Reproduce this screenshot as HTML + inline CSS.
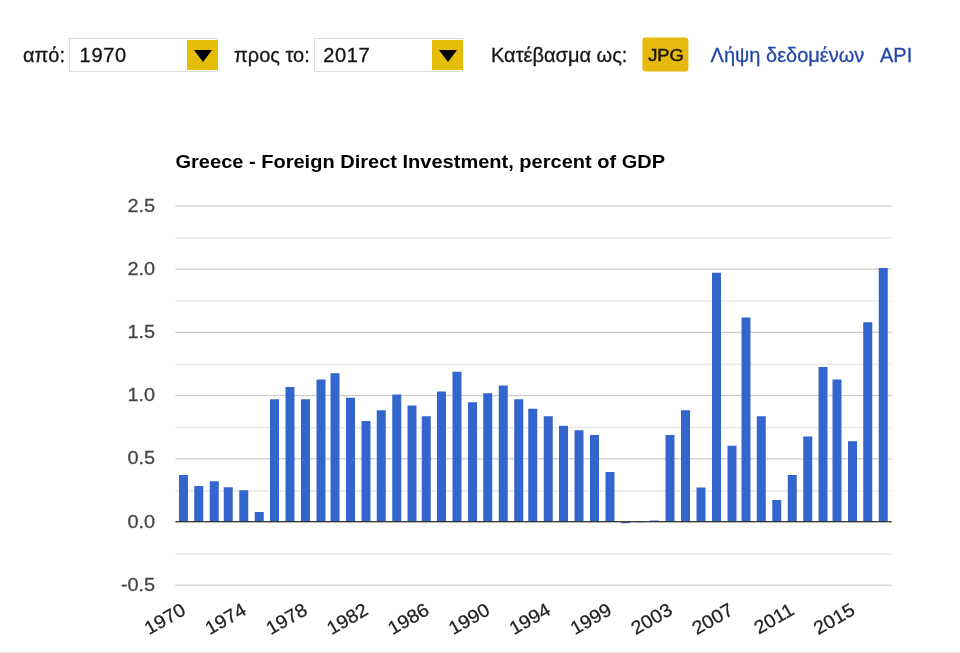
<!DOCTYPE html>
<html lang="el">
<head>
<meta charset="utf-8">
<title>Greece - Foreign Direct Investment, percent of GDP</title>
<style>
html,body{margin:0;padding:0;background:#fff;}
body{width:960px;height:653px;overflow:hidden;position:relative;font-family:"Liberation Sans",sans-serif;}
.bar{position:absolute;left:0;top:0;width:960px;height:110px;font-size:20px;color:#161616;}
.bar span,.bar a,.sel b{-webkit-text-stroke:0.3px currentColor;}
.bar span,.bar a{position:absolute;top:43px;line-height:24px;white-space:nowrap;}
.bar a{color:#2448aa;text-decoration:none;}
.sel{position:absolute;top:38px;height:31.5px;width:147.2px;border:1px solid #dcdcdc;background:#fff;box-sizing:content-box;}
.sel b{position:absolute;left:9.6px;top:4px;font-weight:normal;line-height:24px;font-size:20px;color:#111;letter-spacing:0.7px;}
.sel i{position:absolute;right:-1px;top:0.6px;width:31.6px;height:30.2px;background:#e6bd06;}
.sel i:after{content:"";position:absolute;left:7.1px;top:10.7px;border-left:9.2px solid transparent;border-right:9.2px solid transparent;border-top:12.6px solid #000;}
.btn{position:absolute;left:642px;top:37px;width:46px;height:34px;transform:translate(0.4px,0.45px);background:#e6b90f;border-radius:3px;color:#1c1400;font-size:17.2px;line-height:35px;text-align:center;-webkit-text-stroke:0.45px #1c1400;}
.btn u{display:inline-block;text-decoration:none;transform:translate(0.9px,0.9px) scaleX(1.07);}
.chart{position:absolute;left:0;top:133px;}
.ttl{font:bold 17.6px "Liberation Sans",sans-serif;fill:#000;}
.yl{font:18.8px "Liberation Sans",sans-serif;fill:#444;stroke:#444;stroke-width:0.25px;}
.xl{font:18.8px "Liberation Sans",sans-serif;fill:#222;stroke:#222;stroke-width:0.25px;}
.foot{position:absolute;left:0;top:651px;width:960px;height:2px;background:#efefef;}
</style>
</head>
<body>
<div class="bar">
<span style="left:23px">από:</span>
<div class="sel" style="left:69px"><b>1970</b><i></i></div>
<span style="left:234px">προς το:</span>
<div class="sel" style="left:314px"><b style="left:8.3px;letter-spacing:0.6px">2017</b><i></i></div>
<span style="left:491px">Κατέβασμα ως:</span>
<div class="btn"><u>JPG</u></div>
<a style="left:710.6px">Λήψη δεδομένων</a>
<a style="left:880px">API</a>
</div>
<svg class="chart" width="960" height="520" viewBox="0 133 960 520">
<text x="175.5" y="168" class="ttl" textLength="489.6" lengthAdjust="spacingAndGlyphs">Greece - Foreign Direct Investment, percent of GDP</text>
<rect x="175.4" y="237.15" width="716.2" height="1.5" fill="#e9e9e9"/>
<rect x="175.4" y="300.35" width="716.2" height="1.5" fill="#e9e9e9"/>
<rect x="175.4" y="363.55" width="716.2" height="1.5" fill="#e9e9e9"/>
<rect x="175.4" y="426.85" width="716.2" height="1.5" fill="#e9e9e9"/>
<rect x="175.4" y="490.15" width="716.2" height="1.5" fill="#e9e9e9"/>
<rect x="175.4" y="553.25" width="716.2" height="1.5" fill="#e9e9e9"/>
<rect x="175.4" y="205.30" width="716.2" height="1.2" fill="#cacaca"/>
<rect x="175.4" y="268.50" width="716.2" height="1.2" fill="#cacaca"/>
<rect x="175.4" y="331.70" width="716.2" height="1.2" fill="#cacaca"/>
<rect x="175.4" y="394.95" width="716.2" height="1.2" fill="#cacaca"/>
<rect x="175.4" y="458.20" width="716.2" height="1.2" fill="#cacaca"/>
<rect x="175.4" y="584.60" width="716.2" height="1.2" fill="#cacaca"/>
<rect x="179" y="475" width="9" height="47.00" fill="#3366cc"/>
<rect x="194.25" y="486" width="9" height="36.00" fill="#3366cc"/>
<rect x="209.75" y="481.25" width="9" height="40.75" fill="#3366cc"/>
<rect x="223.75" y="487.25" width="9" height="34.75" fill="#3366cc"/>
<rect x="239.25" y="490.25" width="9" height="31.75" fill="#3366cc"/>
<rect x="254.75" y="512" width="9" height="10.00" fill="#3366cc"/>
<rect x="270" y="399.25" width="9" height="122.75" fill="#3366cc"/>
<rect x="285.5" y="387" width="9" height="135.00" fill="#3366cc"/>
<rect x="301" y="399.25" width="9" height="122.75" fill="#3366cc"/>
<rect x="316.5" y="379.5" width="9" height="142.50" fill="#3366cc"/>
<rect x="330.5" y="373.25" width="9" height="148.75" fill="#3366cc"/>
<rect x="346" y="397.75" width="9" height="124.25" fill="#3366cc"/>
<rect x="361.5" y="421" width="9" height="101.00" fill="#3366cc"/>
<rect x="376.75" y="410.25" width="9" height="111.75" fill="#3366cc"/>
<rect x="392.25" y="394.5" width="9" height="127.50" fill="#3366cc"/>
<rect x="407.5" y="405.5" width="9" height="116.50" fill="#3366cc"/>
<rect x="421.75" y="416.25" width="9" height="105.75" fill="#3366cc"/>
<rect x="437" y="391.5" width="9" height="130.50" fill="#3366cc"/>
<rect x="452.5" y="371.75" width="9" height="150.25" fill="#3366cc"/>
<rect x="468" y="402.25" width="9" height="119.75" fill="#3366cc"/>
<rect x="483.25" y="393.25" width="9" height="128.75" fill="#3366cc"/>
<rect x="498.75" y="385.5" width="9" height="136.50" fill="#3366cc"/>
<rect x="514.25" y="399.25" width="9" height="122.75" fill="#3366cc"/>
<rect x="528.25" y="408.75" width="9" height="113.25" fill="#3366cc"/>
<rect x="543.75" y="416.25" width="9" height="105.75" fill="#3366cc"/>
<rect x="559" y="425.75" width="9" height="96.25" fill="#3366cc"/>
<rect x="574.5" y="430.25" width="9" height="91.75" fill="#3366cc"/>
<rect x="590" y="435" width="9" height="87.00" fill="#3366cc"/>
<rect x="605.5" y="472" width="9" height="50.00" fill="#3366cc"/>
<rect x="621" y="522" width="9" height="1.20" fill="#3366cc"/>
<rect x="635" y="522" width="9" height="0.20" fill="#3366cc"/>
<rect x="650" y="520.5" width="9" height="1.50" fill="#3366cc"/>
<rect x="665.5" y="435" width="9" height="87.00" fill="#3366cc"/>
<rect x="681" y="410.25" width="9" height="111.75" fill="#3366cc"/>
<rect x="696.5" y="487.5" width="9" height="34.50" fill="#3366cc"/>
<rect x="712" y="272.75" width="9" height="249.25" fill="#3366cc"/>
<rect x="727.5" y="445.75" width="9" height="76.25" fill="#3366cc"/>
<rect x="741.5" y="317.5" width="9" height="204.50" fill="#3366cc"/>
<rect x="756.75" y="416.25" width="9" height="105.75" fill="#3366cc"/>
<rect x="772.25" y="500" width="9" height="22.00" fill="#3366cc"/>
<rect x="787.75" y="475" width="9" height="47.00" fill="#3366cc"/>
<rect x="803.25" y="436.5" width="9" height="85.50" fill="#3366cc"/>
<rect x="818.5" y="367" width="9" height="155.00" fill="#3366cc"/>
<rect x="832.5" y="379.5" width="9" height="142.50" fill="#3366cc"/>
<rect x="848" y="441.2" width="9" height="80.80" fill="#3366cc"/>
<rect x="863.25" y="322.25" width="9" height="199.75" fill="#3366cc"/>
<rect x="878.75" y="268" width="9" height="254.00" fill="#3366cc"/>
<rect x="175.4" y="521.05" width="716.2" height="1.3" fill="#333333"/>
<text transform="translate(155.2 211.50) scale(1.06 1)" class="yl" text-anchor="end">2.5</text>
<text transform="translate(155.2 274.70) scale(1.06 1)" class="yl" text-anchor="end">2.0</text>
<text transform="translate(155.2 337.90) scale(1.06 1)" class="yl" text-anchor="end">1.5</text>
<text transform="translate(155.2 401.15) scale(1.06 1)" class="yl" text-anchor="end">1.0</text>
<text transform="translate(155.2 464.40) scale(1.06 1)" class="yl" text-anchor="end">0.5</text>
<text transform="translate(155.2 590.80) scale(1.06 1)" class="yl" text-anchor="end">-0.5</text>
<text transform="translate(155.2 527.60) scale(1.06 1)" class="yl" text-anchor="end">0.0</text>
<text class="xl" text-anchor="end" transform="translate(180.01 601.3) rotate(-30) scale(1.05 1)" x="0" y="14">1970</text>
<text class="xl" text-anchor="end" transform="translate(240.86 601.3) rotate(-30) scale(1.05 1)" x="0" y="14">1974</text>
<text class="xl" text-anchor="end" transform="translate(301.71 601.3) rotate(-30) scale(1.05 1)" x="0" y="14">1978</text>
<text class="xl" text-anchor="end" transform="translate(362.56 601.3) rotate(-30) scale(1.05 1)" x="0" y="14">1982</text>
<text class="xl" text-anchor="end" transform="translate(423.41 601.3) rotate(-30) scale(1.05 1)" x="0" y="14">1986</text>
<text class="xl" text-anchor="end" transform="translate(484.26 601.3) rotate(-30) scale(1.05 1)" x="0" y="14">1990</text>
<text class="xl" text-anchor="end" transform="translate(545.11 601.3) rotate(-30) scale(1.05 1)" x="0" y="14">1994</text>
<text class="xl" text-anchor="end" transform="translate(605.96 601.3) rotate(-30) scale(1.05 1)" x="0" y="14">1999</text>
<text class="xl" text-anchor="end" transform="translate(666.81 601.3) rotate(-30) scale(1.05 1)" x="0" y="14">2003</text>
<text class="xl" text-anchor="end" transform="translate(727.67 601.3) rotate(-30) scale(1.05 1)" x="0" y="14">2007</text>
<text class="xl" text-anchor="end" transform="translate(788.52 601.3) rotate(-30) scale(1.05 1)" x="0" y="14">2011</text>
<text class="xl" text-anchor="end" transform="translate(849.37 601.3) rotate(-30) scale(1.05 1)" x="0" y="14">2015</text>
</svg>
<div class="foot"></div>
</body>
</html>
